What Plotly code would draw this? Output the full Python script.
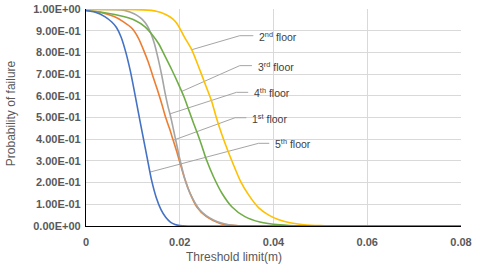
import numpy as np
import plotly.graph_objects as go

# ---- data ----
x_5th = [0, 0.002, 0.004, 0.0055, 0.0065, 0.0075, 0.0085, 0.0095, 0.0105, 0.0112, 0.012, 0.013,
         0.014, 0.015, 0.016, 0.017, 0.018, 0.019, 0.020, 0.022, 0.08]
p_5th = [0.993, 0.985, 0.965, 0.94, 0.915, 0.87, 0.80, 0.71, 0.60, 0.52, 0.43, 0.32,
         0.21, 0.13, 0.075, 0.04, 0.018, 0.007, 0.002, 0, 0]

x_1st = [0, 0.003, 0.006, 0.008, 0.0098, 0.0112, 0.0122, 0.0132, 0.0142, 0.0152, 0.0162, 0.017,
         0.0178, 0.0186, 0.0194, 0.020, 0.0211, 0.0222, 0.0236, 0.0257, 0.0286, 0.032, 0.035, 0.08]
p_1st = [0.993, 0.985, 0.965, 0.941, 0.911, 0.865, 0.815, 0.76, 0.695, 0.63, 0.56, 0.5,
         0.45, 0.395, 0.34, 0.295, 0.215, 0.151, 0.089, 0.043, 0.012, 0.002, 0, 0]

x_4th = [0, 0.008, 0.0095, 0.0108, 0.012, 0.013, 0.0138, 0.0146, 0.0154, 0.0162, 0.0169, 0.0175,
         0.0181, 0.0187, 0.0194, 0.020, 0.0211, 0.0222, 0.0243, 0.0272, 0.0307, 0.034, 0.08]
p_4th = [0.998, 0.995, 0.985, 0.972, 0.952, 0.925, 0.89, 0.84, 0.77, 0.69, 0.61, 0.55,
         0.5, 0.44, 0.37, 0.31, 0.215, 0.15, 0.074, 0.028, 0.005, 0, 0]

x_3rd = [0, 0.004, 0.008, 0.0105, 0.0126, 0.014, 0.0155, 0.0168, 0.0183, 0.0197, 0.021, 0.022,
         0.023, 0.0238, 0.0247, 0.0257, 0.0272, 0.029, 0.0311, 0.0339, 0.0371, 0.0414, 0.046, 0.08]
p_3rd = [0.993, 0.983, 0.965, 0.947, 0.918, 0.885, 0.84, 0.785, 0.72, 0.655, 0.59, 0.53,
         0.47, 0.425, 0.37, 0.305, 0.227, 0.151, 0.089, 0.043, 0.018, 0.005, 0, 0]

x_2nd = [0, 0.008, 0.012, 0.015, 0.017, 0.0185, 0.0195, 0.021, 0.0225, 0.024, 0.0255, 0.0268,
         0.0278, 0.029, 0.0302, 0.0315, 0.033, 0.0348, 0.0368, 0.039, 0.041, 0.0435, 0.0465,
         0.05, 0.055, 0.08]
p_2nd = [0.998, 0.998, 0.996, 0.99, 0.975, 0.955, 0.93, 0.87, 0.815, 0.735, 0.65, 0.575,
         0.5, 0.42, 0.35, 0.28, 0.205, 0.14, 0.085, 0.05, 0.03, 0.015, 0.006,
         0.002, 0, 0]

y_tickvals = [0, 0.1, 0.2, 0.3, 0.4, 0.5, 0.6, 0.7, 0.8, 0.9, 1.0]
y_ticktext = ["0.00E+00", "1.00E-01", "2.00E-01", "3.00E-01", "4.00E-01", "5.00E-01",
              "6.00E-01", "7.00E-01", "8.00E-01", "9.00E-01", "1.00E+00"]
x_tickvals = [0, 0.02, 0.04, 0.06, 0.08]
x_ticktext = ["0", "0.02", "0.04", "0.06", "0.08"]

series = [
    ("1<sup>st</sup> floor", x_1st, p_1st, "#ED7D31"),
    ("4<sup>th</sup> floor", x_4th, p_4th, "#A5A5A5"),
    ("3<sup>rd</sup> floor", x_3rd, p_3rd, "#70AD47"),
    ("2<sup>nd</sup> floor", x_2nd, p_2nd, "#FFC000"),
    ("5<sup>th</sup> floor", x_5th, p_5th, "#4472C4"),
]

# label layout: (label, series index, x on curve where leader ends, bend point, text anchor)
labels = [
    ("2<sup>nd</sup> floor", 3, 0.02255, (0.0328, 0.877), (0.0365, 0.874)),
    ("3<sup>rd</sup> floor", 2, 0.0204, (0.0328, 0.739), (0.0362, 0.736)),
    ("4<sup>th</sup> floor", 1, 0.0179, (0.0321, 0.616), (0.0354, 0.616)),
    ("1<sup>st</sup> floor", 0, 0.0186, (0.0318, 0.499), (0.0350, 0.497)),
    ("5<sup>th</sup> floor", 4, 0.01365, (0.0368, 0.381), (0.0399, 0.381)),
]

fig = go.Figure()

# leader lines (drawn under the curves)
for text, si, tx, bend, tpos in labels:
    xs, ps = series[si][1], series[si][2]
    ty = float(np.interp(tx, xs, ps))
    fig.add_trace(go.Scatter(
        x=[tx, bend[0], tpos[0] - 0.0008], y=[ty, bend[1], bend[1]],
        mode="lines", line=dict(color="#A5A5A5", width=1),
        hoverinfo="skip", showlegend=False))

for name, xs, ps, col in series:
    fig.add_trace(go.Scatter(
        x=xs, y=ps, mode="lines", name=name,
        line=dict(color=col, width=1.6, shape="spline", smoothing=0.8),
        showlegend=False))

for text, si, tx, bend, tpos in labels:
    fig.add_annotation(x=tpos[0], y=tpos[1], text=text, showarrow=False,
                       xanchor="left", yanchor="middle",
                       font=dict(family="Liberation Sans", size=10.5, color="#404040"))

tickfont = dict(family="Liberation Sans", size=11, color="#595959", weight="bold")
titlefont = dict(family="Liberation Sans", size=12, color="#595959")

fig.add_annotation(xref="paper", yref="paper", x=0.395, y=-0.143,
                   text="Threshold limit(m)", showarrow=False,
                   xanchor="center", yanchor="middle", font=titlefont)
fig.add_annotation(xref="paper", yref="paper", x=-0.2, y=0.52,
                   text="Probability of failure", showarrow=False, textangle=-90,
                   xanchor="center", yanchor="middle", font=titlefont)

fig.update_layout(
    width=480, height=269,
    margin=dict(l=86, r=19, t=9, b=43),
    paper_bgcolor="white", plot_bgcolor="white",
    xaxis=dict(range=[0, 0.08], tickvals=x_tickvals, ticktext=x_ticktext,
               showgrid=True, gridcolor="#D9D9D9", gridwidth=1, zeroline=False,
               showline=True, linecolor="black", linewidth=1.3, automargin=False,
               tickfont=tickfont, ticklabelstandoff=6, layer="below traces"),
    yaxis=dict(range=[0, 1.0], tickvals=y_tickvals, ticktext=y_ticktext,
               showgrid=True, gridcolor="#D9D9D9", gridwidth=1, zeroline=False,
               showline=True, linecolor="black", linewidth=1.3, automargin=False,
               tickfont=tickfont, ticklabelstandoff=2, layer="below traces"),
)

fig.write_html("out.html", config={"displayModeBar": False},
               post_script="document.body.style.margin='0';document.body.style.overflow='hidden';")
